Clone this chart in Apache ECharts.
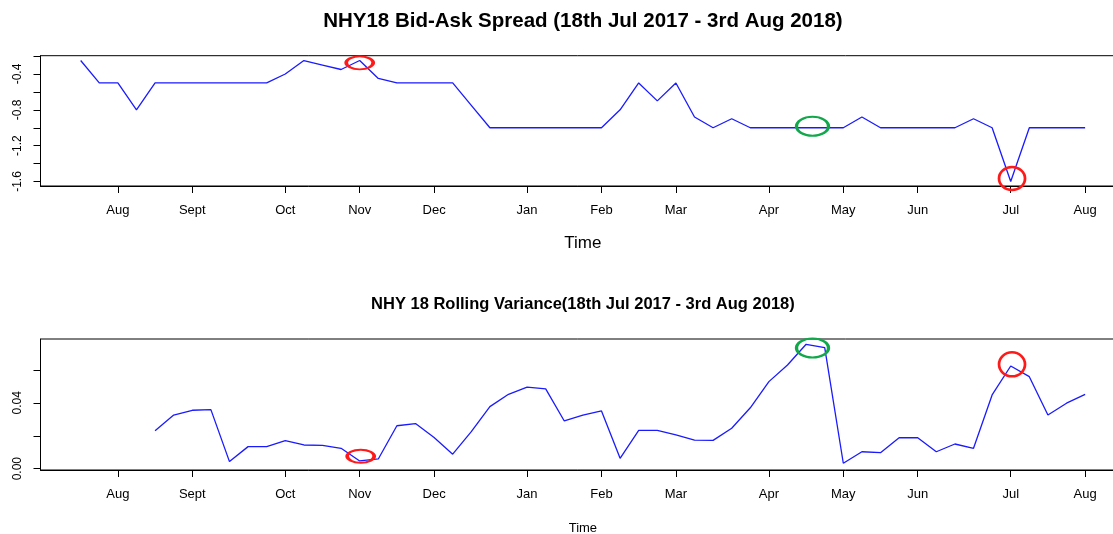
<!DOCTYPE html>
<html>
<head>
<meta charset="utf-8">
<script src="https://cdn.jsdelivr.net/npm/echarts@6/dist/echarts.min.js"></script>
<style>
  html, body { margin: 0; padding: 0; background: #fff; }
  #chart { width: 1113px; height: 534px; }
</style>
</head>
<body>
<div id="chart"></div>
<script>
// ---------------- DATA ----------------
// Weekly observations, index 0 = 18 Jul 2017 ... index 54 = 3 Aug 2018
const spread = [
  -0.25, -0.5, -0.5, -0.8, -0.5, -0.5, -0.5, -0.5, -0.5, -0.5, -0.5,
  -0.4, -0.25, -0.3, -0.35, -0.25, -0.45,
  -0.5, -0.5, -0.5, -0.5,
  -0.75,
  -1, -1, -1, -1, -1, -1, -1,
  -0.8, -0.5, -0.7, -0.5, -0.88,
  -1, -0.9,
  -1, -1, -1, -1, -1, -1,
  -0.88,
  -1, -1, -1, -1, -1,
  -0.9, -1, -1.6,
  -1, -1, -1, -1
];
const rollingVar = [
  null, null, null, null,
  0.0231, 0.0326, 0.0355, 0.0359, 0.0043, 0.0134, 0.0134, 0.0170, 0.0144, 0.0142,
  0.0124, 0.0047, 0.0059, 0.0261, 0.0274, 0.0190, 0.0088, 0.0225, 0.0377, 0.0452,
  0.0495, 0.0485, 0.0290, 0.0326, 0.0351, 0.0063, 0.0233, 0.0233, 0.0205, 0.0174,
  0.0172, 0.0246, 0.0370, 0.0529, 0.0630, 0.0756, 0.0736, 0.0033, 0.0103, 0.0097,
  0.0188, 0.0188, 0.0103, 0.0150, 0.0124, 0.0448, 0.0624, 0.0559, 0.0326, 0.0398,
  0.0452
];
// month ticks (week index of first observation in month) and labels
const monthTickIdx = [2, 6, 11, 15, 19, 24, 28, 32, 37, 41, 45, 50, 54];
const monthLabels = ['Aug', 'Sept', 'Oct', 'Nov', 'Dec', 'Jan', 'Feb', 'Mar', 'Apr', 'May', 'Jun', 'Jul', 'Aug'];
// y-axis ticks and labels
const spreadTicks = [-0.2, -0.4, -0.6, -0.8, -1.0, -1.2, -1.4, -1.6];
const spreadLabels = [-0.4, -0.8, -1.2, -1.6];
const varTicks = [0, 0.02, 0.04, 0.06];
const varLabels = [0, 0.04];
// highlighted observations (indices)
const spreadRedIdx = [15, 50];
const spreadGreenIdx = [39];
const varRedIdx = [15, 50];
const varGreenIdx = [39];

const title1 = 'NHY18 Bid-Ask Spread (18th Jul 2017 - 3rd Aug 2018)';
const title2 = 'NHY 18 Rolling Variance(18th Jul 2017 - 3rd Aug 2018)';
const xTitle = 'Time';

// ---------------- STYLE / LAYOUT ----------------
const FONT = '"Liberation Sans", Arial, sans-serif';
const plotLeft = 40.5, plotWidth = 1084.8;
const xMin = -2.16, xMax = 56.16;
const centerX = plotLeft + plotWidth / 2;

// ellipse styles for the annotations (size and pixel nudge), in order of the index arrays
const spreadRedStyle = [{ size: [27, 13], off: [0, 2.3] }, { size: [26, 23], off: [1.3, -3] }];
const spreadGreenStyle = [{ size: [32, 19], off: [6.4, -1.4] }];
const varRedStyle = [{ size: [27, 13], off: [1, -4.7] }, { size: [26, 24], off: [1.3, -1.7] }];
const varGreenStyle = [{ size: [32, 19], off: [6.4, 3.7] }];

function pairs(arr) {
  const out = [];
  arr.forEach((v, i) => { if (v !== null) out.push([i, v]); });
  return out;
}
function marks(values, idxs, styles, color) {
  return idxs.map((i, k) => ({
    coord: [i, values[i]],
    symbol: 'circle',
    symbolSize: styles[k].size,
    symbolOffset: styles[k].off,
    itemStyle: { color: 'rgba(0,0,0,0)', borderColor: color, borderWidth: 2.6 }
  }));
}
const RED = '#ff1a1a', GREEN = '#10a84a';

function xAxisCfg(gi, margin) {
  return {
    gridIndex: gi, type: 'value', min: xMin, max: xMax,
    axisLine: { show: true, onZero: false, lineStyle: { color: '#000', width: 1 } },
    axisTick: { show: true, inside: false, length: 7, customValues: monthTickIdx, lineStyle: { color: '#000' } },
    axisLabel: {
      show: true, customValues: monthTickIdx, margin: margin,
      fontFamily: FONT, fontSize: 13, color: '#000',
      formatter: v => monthLabels[monthTickIdx.indexOf(Math.round(v))]
    },
    splitLine: { show: false }
  };
}

const option = {
  animation: false,
  backgroundColor: '#fff',
  grid: [
    { left: plotLeft, top: 55.7, width: plotWidth, height: 130.3, show: true, borderColor: '#000', borderWidth: 1, backgroundColor: 'rgba(0,0,0,0)', containLabel: false, outerBoundsMode: 'none' },
    { left: plotLeft, top: 339, width: plotWidth, height: 131, show: true, borderColor: '#000', borderWidth: 1, backgroundColor: 'rgba(0,0,0,0)', containLabel: false, outerBoundsMode: 'none' }
  ],
  xAxis: [xAxisCfg(0, 18), xAxisCfg(1, 18)],
  yAxis: [
    {
      gridIndex: 0, type: 'value', min: -1.65, max: -0.196,
      axisLine: { show: true, onZero: false, lineStyle: { color: '#000' } },
      axisTick: { show: true, length: 7, customValues: spreadTicks, lineStyle: { color: '#000' } },
      axisLabel: {
        customValues: spreadLabels, rotate: 90, margin: 17,
        fontFamily: FONT, fontSize: 12, color: '#000',
        formatter: v => v.toFixed(1)
      },
      splitLine: { show: false }
    },
    {
      gridIndex: 1, type: 'value', min: -0.0008, max: 0.0788,
      axisLine: { show: true, onZero: false, lineStyle: { color: '#000' } },
      axisTick: { show: true, length: 7, customValues: varTicks, lineStyle: { color: '#000' } },
      axisLabel: {
        customValues: varLabels, rotate: 90, margin: 17,
        fontFamily: FONT, fontSize: 12, color: '#000',
        formatter: v => v.toFixed(2)
      },
      splitLine: { show: false }
    }
  ],
  series: [
    {
      type: 'line', xAxisIndex: 0, yAxisIndex: 0, data: pairs(spread),
      showSymbol: false, symbol: 'none', clip: false,
      lineStyle: { color: '#1a1aff', width: 1.3 },
      emphasis: { disabled: true },
      markPoint: {
        silent: true, label: { show: false },
        data: marks(spread, spreadRedIdx, spreadRedStyle, RED)
          .concat(marks(spread, spreadGreenIdx, spreadGreenStyle, GREEN))
      }
    },
    {
      type: 'line', xAxisIndex: 1, yAxisIndex: 1, data: pairs(rollingVar),
      showSymbol: false, symbol: 'none', clip: false,
      lineStyle: { color: '#1a1aff', width: 1.3 },
      emphasis: { disabled: true },
      markPoint: {
        silent: true, label: { show: false },
        data: marks(rollingVar, varRedIdx, varRedStyle, RED)
          .concat(marks(rollingVar, varGreenIdx, varGreenStyle, GREEN))
      }
    }
  ],
  graphic: [
    { type: 'text', x: centerX, y: 21.7, silent: true,
      style: { text: title1, font: 'bold 20.5px ' + FONT, fill: '#000', align: 'center', verticalAlign: 'middle', textAlign: 'center', textVerticalAlign: 'middle' } },
    { type: 'text', x: centerX, y: 243, silent: true,
      style: { text: xTitle, font: '17px ' + FONT, fill: '#000', align: 'center', verticalAlign: 'middle', textAlign: 'center', textVerticalAlign: 'middle' } },
    { type: 'text', x: centerX, y: 304.3, silent: true,
      style: { text: title2, font: 'bold 16.5px ' + FONT, fill: '#000', align: 'center', verticalAlign: 'middle', textAlign: 'center', textVerticalAlign: 'middle' } },
    { type: 'text', x: centerX, y: 528, silent: true,
      style: { text: xTitle, font: '13px ' + FONT, fill: '#000', align: 'center', verticalAlign: 'middle', textAlign: 'center', textVerticalAlign: 'middle' } }
  ]
};

const chart = echarts.init(document.getElementById('chart'), null, { renderer: 'canvas' });
chart.setOption(option);
</script>
</body>
</html>
